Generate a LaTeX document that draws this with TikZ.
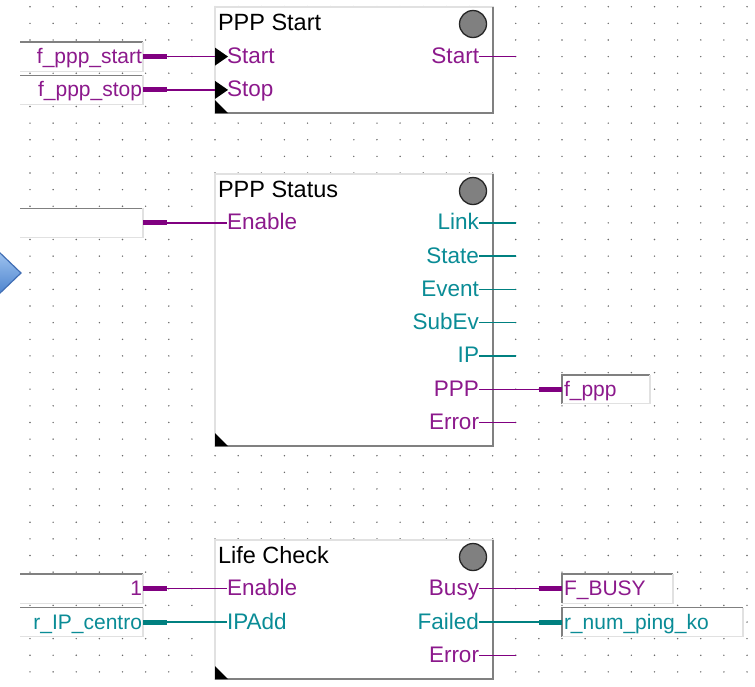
\documentclass[tikz,border=0pt]{standalone}
\usepackage{fontspec}
\setmainfont{Liberation Sans}
\usetikzlibrary{positioning,calc}

\definecolor{fbpurple}{RGB}{128,0,128}
\definecolor{fbteal}{RGB}{0,128,128}
\definecolor{txtpurple}{RGB}{140,25,140}
\definecolor{txtteal}{RGB}{10,140,150}
\definecolor{boxlight}{RGB}{225,225,225}
\definecolor{boxdark}{RGB}{128,128,128}
\definecolor{lampgray}{RGB}{128,128,128}
\definecolor{dotgray}{RGB}{105,105,105}
\definecolor{arrowtop}{RGB}{160,196,240}
\definecolor{arrowbot}{RGB}{75,130,205}
\definecolor{arrowedge}{RGB}{65,110,180}
\newcommand{\fbfont}{\fontsize{22.5pt}{25pt}\selectfont}
\newcommand{\fbtitlefont}{\fontsize{23.5pt}{26pt}\selectfont}
\newcommand{\fbvarfont}{\fontsize{21pt}{24pt}\selectfont}

\begin{document}
\begin{tikzpicture}[x=1pt,y=-1pt,every node/.style={inner sep=0pt,outer sep=0pt,font=\fbfont}]
\tikzstyle{block}=[draw=boxlight,fill=white,line width=1.2pt,minimum width=278pt,anchor=north west]
\tikzstyle{shadowline}=[draw=boxdark,line width=1.6pt]
\tikzstyle{port}=[text height=16pt,text depth=2pt]
\tikzstyle{title}=[anchor=base west,font=\fbtitlefont]
\tikzstyle{invar}=[port,fill=white,font=\fbvarfont,minimum height=29pt,inner xsep=1pt,text width=121pt,align=right,anchor=east]
\tikzstyle{outvar}=[port,fill=white,font=\fbvarfont,minimum height=29pt,inner xsep=2pt,align=left,anchor=west]
\tikzstyle{thinwire}=[line width=1.3pt]
\tikzstyle{thickwire}=[line width=5pt]
\tikzstyle{lamp}=[circle,draw=black!85,fill=lampgray,line width=1.3pt,minimum size=27pt]

\useasboundingbox (0,0) rectangle (755,686);

% dot grid
\foreach \i in {0,...,31}
  \foreach \j in {0,...,40}
    \fill[dotgray] (30+23.13*\i,6.7+16.63*\j) circle (0.8pt);

% blue arrow at the left border
\shade[top color=arrowtop,bottom color=arrowbot,draw=arrowedge,line width=1.2pt] (-2,251) -- (21,273) -- (-2,295);

%%% PPP Start
\node (start) [block,minimum height=106pt] at (215,7) {};
\draw [shadowline] (start.north east) -- (start.south east) -- (start.south west);
\node (startT) [title] at ($(start.north west)+(3,23)$) {PPP Start};
\node (startL) [lamp] at ($(start.north east)+(-20,17)$) {};

\node (vStart) [invar,text=txtpurple] at (143,56.6) {f\_ppp\_start};
\node (vStop) [invar,text=txtpurple] at (143,89.9) {f\_ppp\_stop};
\node (startIn) [port,anchor=west,text=txtpurple] at (227,56.6) {Start};
\node (stopIn) [port,anchor=west,text=txtpurple] at (227,89.9) {Stop};
\node (startOut) [port,anchor=east,text=txtpurple] at (479,56.6) {Start};
\coordinate (startOutE) at (516,56.6);

%%% PPP Status
\node (status) [block,minimum height=272pt] at (215,174) {};
\draw [shadowline] (status.north east) -- (status.south east) -- (status.south west);
\node (statusT) [title] at ($(status.north west)+(3,23)$) {PPP Status};
\node (statusL) [lamp] at ($(status.north east)+(-20,17)$) {};

\node (vEnable) [invar] at (143,222.9) {};
\node (stEnable) [port,anchor=west,text=txtpurple] at (227,222.9) {Enable};
\foreach \lbl/\y in {Link/222.9,State/256.1,Event/289.4,SubEv/322.7,IP/355.9}{
  \node (st\lbl) [port,anchor=east,text=txtteal] at (479,\y) {\lbl};
  \coordinate (st\lbl E) at (516,\y);
  \draw [thinwire,fbteal] (st\lbl.east) -- (st\lbl E);
}
\node (stPPP) [port,anchor=east,text=txtpurple] at (479,389.2) {PPP};
\node (stError) [port,anchor=east,text=txtpurple] at (479,422.5) {Error};
\coordinate (stErrorE) at (516,422.5);
\node (vPPP) [outvar,text width=84pt,text=txtpurple] at (562,389.2) {f\_ppp};

%%% Life Check
\node (life) [block,minimum height=139pt] at (215,540) {};
\draw [shadowline] (life.north east) -- (life.south east) -- (life.south west);
\node (lifeT) [title] at ($(life.north west)+(3,23)$) {Life Check};
\node (lifeL) [lamp] at ($(life.north east)+(-20,17)$) {};

\node (vOne) [invar,text=txtpurple] at (143,588.7) {1};
\node (vIP) [invar,text=txtteal] at (143,622) {r\_IP\_centro};
\node (lcEnable) [port,anchor=west,text=txtpurple] at (227,588.7) {Enable};
\node (lcIPAdd) [port,anchor=west,text=txtteal] at (227,622) {IPAdd};
\node (lcBusy) [port,anchor=east,text=txtpurple] at (479,588.7) {Busy};
\node (lcFailed) [port,anchor=east,text=txtteal] at (479,622) {Failed};
\node (lcError) [port,anchor=east,text=txtpurple] at (479,655.3) {Error};
\coordinate (lcErrorE) at (516,655.3);
\node (vBusy) [outvar,text width=107pt,text=txtpurple] at (562,588.7) {F\_BUSY};
\node (vPing) [outvar,text width=177pt,text=txtteal] at (562,622) {r\_num\_ping\_ko};

% sunken borders of the variables
\foreach \v in {vStart,vStop,vEnable,vOne,vIP}{
  \draw [boxdark,line width=1.6pt] (\v.north west) -- (\v.north east);
  \draw [boxlight,line width=1.2pt] (\v.north east) -- (\v.south east) -- (\v.south west);
}
\foreach \v in {vPPP,vBusy,vPing}{
  \draw [boxdark,line width=1.6pt] (\v.south west) -- (\v.north west) -- (\v.north east);
  \draw [boxlight,line width=1.2pt] (\v.north east) -- (\v.south east) -- (\v.south west);
}

% input wires
\foreach \v/\p/\c in {vStart/startIn/fbpurple,vStop/stopIn/fbpurple,vEnable/stEnable/fbpurple,vOne/lcEnable/fbpurple,vIP/lcIPAdd/fbteal}{
  \draw [thickwire,\c] (\v.east) -- ++(24,0) coordinate (\v S);
  \draw [thinwire,\c] (\v S) -- (\p.west);
}

% output wires
\foreach \p/\v/\c in {stPPP/vPPP/fbpurple,lcBusy/vBusy/fbpurple,lcFailed/vPing/fbteal}{
  \draw [thinwire,\c] (\p.east) -- ($(\v.west)+(-23,0)$) coordinate (\v S);
  \draw [thickwire,\c] (\v S) -- (\v.west);
}
\draw [thinwire,fbpurple] (startOut.east) -- (startOutE);
\draw [thinwire,fbpurple] (stError.east) -- (stErrorE);
\draw [thinwire,fbpurple] (lcError.east) -- (lcErrorE);

% edge inputs and corner marks
\foreach \p in {startIn,stopIn}
  \fill ($(start.west |- \p)+(0,-9)$) -- ($(start.west |- \p)+(13,0)$) -- ($(start.west |- \p)+(0,9)$) -- cycle;
\foreach \b in {start,status,life}
  \fill (\b.south west) -- ++(13,0) -- ++(-13,-13) -- cycle;

\end{tikzpicture}
\end{document}
